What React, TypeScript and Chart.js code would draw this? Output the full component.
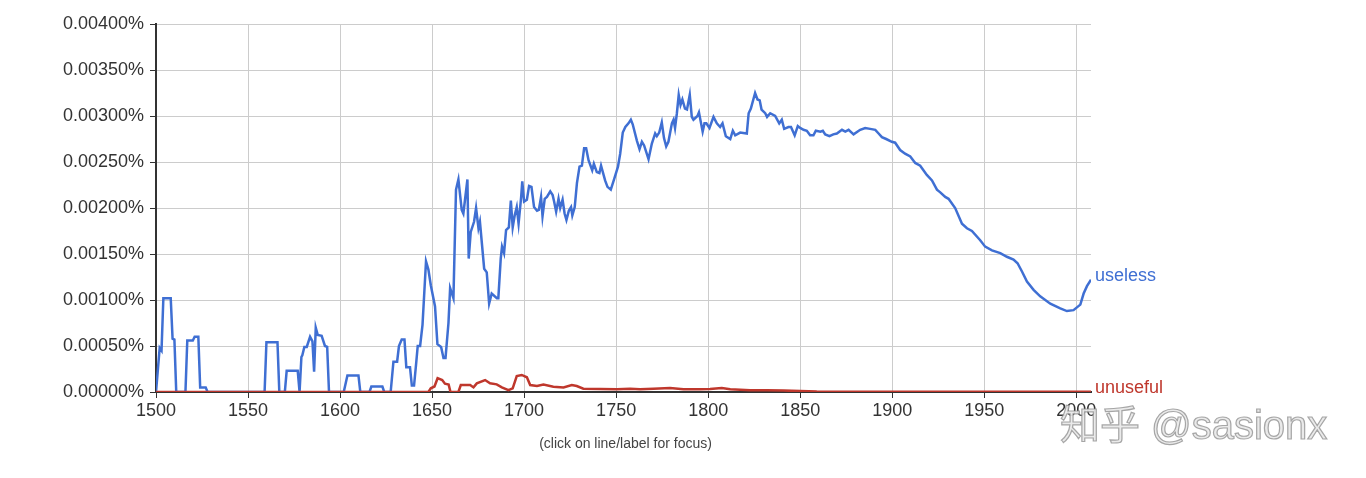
import { useEffect, useRef } from "react";
import { Chart, registerables } from "chart.js";

Chart.register(...registerables);

const X_TICKS = [1500, 1550, 1600, 1650, 1700, 1750, 1800, 1850, 1900, 1950, 2000];
const Y_TICKS = [0, 0.0005, 0.001, 0.0015, 0.002, 0.0025, 0.003, 0.0035, 0.004];

const USELESS_YEARS = [
  1500, 1502, 1503, 1504, 1508, 1509, 1510, 1511, 1516, 1517, 1520, 1521, 1523, 1524, 1527, 1528,
  1559, 1560, 1566, 1567, 1570, 1571, 1577, 1578, 1579, 1579.5, 1580.6, 1581.9, 1583.7, 1585, 1585.9, 1586.8,
  1587.9, 1590, 1591.8, 1593, 1594, 1602, 1604, 1610, 1611, 1616, 1617, 1623, 1624, 1627.5,
  1629, 1631, 1632, 1633.5, 1635, 1636, 1638, 1639, 1640.2, 1641.3, 1642.2, 1643.5, 1644.8, 1646.7,
  1648, 1649.3, 1651.6, 1652.9, 1654.9, 1656.2, 1657.3, 1658.9, 1659.8, 1661.6, 1663, 1664.3,
  1666.1, 1667, 1669.2, 1669.9, 1671, 1672.8, 1673.9, 1675.2, 1676, 1678.3, 1679.7, 1681, 1682.4,
  1685.2, 1686, 1687.3, 1688, 1689.1, 1690.2, 1691.7, 1692.8, 1693.8, 1694.9, 1696, 1697, 1698.4,
  1699, 1700, 1701.5, 1702.7, 1704, 1705.4, 1707, 1708, 1709.2, 1710, 1711.2, 1712.4, 1714.2,
  1715.5, 1716.3, 1717.4, 1718.7, 1719.6, 1720.9, 1722, 1723, 1724.3, 1725.5, 1726.2, 1727.5,
  1728.7, 1730.1, 1731.4, 1732.6, 1733.7, 1735, 1737, 1737.9, 1739.5, 1740.9, 1741.8, 1744, 1745.3,
  1747.1, 1749, 1751, 1752.2, 1753.6, 1755, 1756.7, 1758, 1759, 1761.3, 1762.7, 1764, 1765.2,
  1767.6, 1769.4, 1771.2, 1772.1, 1773.4, 1774.8, 1776, 1777.2, 1778.4, 1780.3, 1781.2, 1782,
  1783, 1784, 1785, 1786, 1787.4, 1788.5, 1790, 1791.1, 1792, 1794.2, 1795, 1797, 1798, 1799,
  1800.7, 1802.9, 1804.7, 1806.5, 1807.8, 1809.6, 1812, 1813.4, 1814.7, 1817.4, 1821, 1822,
  1823.2, 1825.5, 1826.8, 1828, 1829, 1831, 1832, 1833.7, 1836.4, 1838.6, 1840, 1841.3, 1843.6,
  1845, 1847, 1848.7, 1850, 1851.8, 1853.6, 1855.4, 1857.2, 1858.5, 1861, 1862.3, 1863.6, 1865.9,
  1868, 1869.9, 1872.7, 1874.5, 1876.3, 1879, 1882.6, 1885.3, 1888, 1890.8, 1892.6, 1894.4,
  1896.7, 1899.8, 1901.6, 1904.3, 1907, 1909.8, 1912.5, 1915.2, 1918.8, 1921.6, 1924.3, 1926.1,
  1928.8, 1930.6, 1934.2, 1937.9, 1940.6, 1943.3, 1947.8, 1950.5, 1954.2, 1958.7, 1962.3, 1965.9,
  1968.1, 1970.5, 1973.2, 1976.8, 1980.4, 1985.9, 1991.3, 1994.9, 1998.5, 2002.2, 2004, 2005.8, 2008,
];
const USELESS_VALUES = [
  0, 0.00048, 0.00045, 0.00102, 0.00102, 0.00058, 0.00057, 0, 0, 0.00056, 0.00056, 0.0006, 0.0006, 0.00005, 0.00005, 0,
  0, 0.00054, 0.00054, 0, 0, 0.00023, 0.00023, 0, 0.00038, 0.0004, 0.00049, 0.00049, 0.0006, 0.00055, 0.00022, 0.0007,
  0.00062, 0.00061, 0.0005, 0.00049, 0, 0, 0.00018, 0.00018, 0, 0, 0.00006, 0.00006, 0, 0,
  0.00033, 0.00033, 0.0005, 0.00057, 0.00057, 0.00027, 0.00027, 0.00007, 0.00007, 0.0003, 0.0005, 0.0005, 0.00073, 0.00142,
  0.00133, 0.00116, 0.00093, 0.00052, 0.00049, 0.00037, 0.00037, 0.00075, 0.00113, 0.00102, 0.0022, 0.00231,
  0.00198, 0.00194, 0.00231, 0.00145, 0.00174, 0.00185, 0.002, 0.00178, 0.00185, 0.00134, 0.0013, 0.00096, 0.00107,
  0.00102, 0.00102, 0.00145, 0.00158, 0.00151, 0.00176, 0.00179, 0.00208, 0.00179, 0.00192, 0.00201, 0.00183, 0.00212,
  0.00229, 0.00207, 0.00209, 0.00224, 0.00223, 0.00201, 0.00197, 0.00198, 0.00212, 0.00191, 0.0021, 0.00212, 0.00218,
  0.00214, 0.00207, 0.00196, 0.0021, 0.002, 0.00209, 0.00194, 0.00187, 0.00197, 0.00201, 0.00192, 0.00201,
  0.00227, 0.00245, 0.00246, 0.00265, 0.00265, 0.00252, 0.00241, 0.00248, 0.00239, 0.00238, 0.00246, 0.0023, 0.00223,
  0.0022, 0.00232, 0.00245, 0.00259, 0.00282, 0.00288, 0.00292, 0.00296, 0.00291, 0.00273, 0.00264, 0.00272, 0.00268,
  0.00253, 0.0027, 0.00281, 0.00278, 0.00282, 0.00293, 0.00276, 0.00267, 0.00272, 0.00292, 0.00296, 0.00287,
  0.00303, 0.00323, 0.00312, 0.00318, 0.00308, 0.00307, 0.00323, 0.00299, 0.00296, 0.003, 0.00304, 0.00283, 0.00292, 0.00292,
  0.00287, 0.00299, 0.00292, 0.00288, 0.00292, 0.00278, 0.00275, 0.00284, 0.00279, 0.00282, 0.00281, 0.00303,
  0.00308, 0.00325, 0.00318, 0.00317, 0.00307, 0.00303, 0.00299, 0.00303, 0.003, 0.00292, 0.00296, 0.00286, 0.00288,
  0.00288, 0.00279, 0.00289, 0.00287, 0.00285, 0.00284, 0.00279, 0.00279, 0.00284, 0.00283, 0.00284, 0.0028, 0.00278,
  0.0028, 0.00281, 0.00285, 0.00283, 0.00285, 0.0028, 0.00285, 0.00287, 0.00286, 0.00285, 0.00281, 0.00277,
  0.00275, 0.00272, 0.00271, 0.00263, 0.00259, 0.00256, 0.00249, 0.00246, 0.00236, 0.0023, 0.0022, 0.00217,
  0.00212, 0.0021, 0.002, 0.00183, 0.00178, 0.00175, 0.00165, 0.00158, 0.00154, 0.00151, 0.00147, 0.00144,
  0.0014, 0.00131, 0.0012, 0.00111, 0.00104, 0.00096, 0.00091, 0.00088, 0.00089, 0.00095, 0.00107, 0.00115, 0.00122,
];

const UNUSEFUL_YEARS = [
  1500, 1648, 1649.3, 1651.3, 1653, 1655.5, 1657, 1659, 1660, 1664.3, 1665.6, 1670.7, 1672.5, 1674.3,
  1678.8, 1681.5, 1685.1, 1687.9, 1691.5, 1693.8, 1696, 1698.7, 1701.5, 1703.3, 1707, 1710.5, 1715.9,
  1721.4, 1725.9, 1728.6, 1732.2, 1741.3, 1750.4, 1757.6, 1763, 1770.3, 1779.3, 1786.6, 1795.7, 1801,
  1807.4, 1812, 1822.8, 1831.9, 1841, 1850, 1859, 1880, 2008,
];
const UNUSEFUL_VALUES = [
  0, 0, 0.00004, 0.00006, 0.00015, 0.00013, 0.00009, 0.00008, 0, 0, 0.000076, 0.000076, 0.00005, 0.000094,
  0.00013, 0.000094, 0.000083, 0.00005, 0.00002, 0.00004, 0.000174, 0.000185, 0.00016, 0.000076, 0.000065, 0.00008, 0.000058,
  0.00005, 0.000076, 0.000065, 0.000036, 0.000033, 0.00003, 0.000036, 0.00003, 0.000036, 0.000043, 0.00003, 0.00003, 0.000033,
  0.000043, 0.00003, 0.00002, 0.000018, 0.000015, 0.00001, 0.000005, 0.000003, 0.000003,
];

const SERIES_NAMES = ["unuseful", "useless"];
const CAPTION = "(click on line/label for focus)";
const WATERMARK = "知乎 @sasionx";

const BLUE = "#3f6fd3";
const RED = "#bf372c";
const FONT = "Arial, 'Liberation Sans', sans-serif";

const toPoints = (xs: number[], ys: number[]) => xs.map((x, i) => ({ x, y: ys[i] }));

const overlayPlugin = {
  id: "overlay",
  afterDatasetsDraw(chart: any) {
    const ctx = chart.ctx;
    ctx.save();
    ctx.font = `18px ${FONT}`;
    ctx.textAlign = "left";
    ctx.textBaseline = "alphabetic";
    chart.data.datasets.forEach((ds: any, i: number) => {
      const meta = chart.getDatasetMeta(i);
      const last = meta.data[meta.data.length - 1];
      if (!last) return;
      ctx.fillStyle = ds.borderColor;
      ctx.fillText(ds.label, last.x + 4, last.y + 1);
    });
    ctx.restore();
  },
  afterDraw(chart: any) {
    const ctx = chart.ctx;
    const area = chart.chartArea;
    ctx.save();
    ctx.font = `14px ${FONT}`;
    ctx.fillStyle = "#444";
    ctx.textAlign = "center";
    ctx.textBaseline = "middle";
    ctx.fillText(CAPTION, (area.left + area.right) / 2 + 2, 444);

    ctx.font = `40px 'Liberation Sans', Arial, 'Noto Sans CJK SC', sans-serif`;
    ctx.textAlign = "left";
    ctx.textBaseline = "alphabetic";
    ctx.fillStyle = "rgba(232,232,232,0.92)";
    ctx.strokeStyle = "rgba(140,140,140,0.75)";
    ctx.lineWidth = 1.2;
    ctx.fillText(WATERMARK, 1060, 439);
    ctx.strokeText(WATERMARK, 1060, 439);
    ctx.restore();
  },
};

export default function App() {
  const ref = useRef<HTMLCanvasElement | null>(null);

  useEffect(() => {
    document.body.style.margin = "0";
    const canvas = ref.current;
    if (!canvas) return;
    const chart = new Chart(canvas, {
      type: "line",
      data: {
        datasets: [
          {
            label: SERIES_NAMES[0],
            data: toPoints(UNUSEFUL_YEARS, UNUSEFUL_VALUES),
            borderColor: RED,
            backgroundColor: RED,
            borderWidth: 2.5,
            pointRadius: 0,
            tension: 0,
            order: 0,
          },
          {
            label: SERIES_NAMES[1],
            data: toPoints(USELESS_YEARS, USELESS_VALUES),
            borderColor: BLUE,
            backgroundColor: BLUE,
            borderWidth: 2.5,
            pointRadius: 0,
            tension: 0,
            order: 1,
          },
        ],
      },
      options: {
        animation: false,
        responsive: false,
        devicePixelRatio: 1,
        layout: { padding: { top: 24, right: 275, bottom: 0, left: 0 } },
        plugins: {
          legend: { display: false },
          tooltip: { enabled: false },
        },
        scales: {
          x: {
            type: "linear",
            min: 1500,
            max: 2008,
            afterBuildTicks: (s: any) => {
              s.ticks = X_TICKS.map((v) => ({ value: v }));
            },
            afterFit: (s: any) => {
              s.height = 86;
            },
            ticks: {
              autoSkip: false,
              maxRotation: 0,
              padding: 2,
              color: "#333",
              font: { family: FONT, size: 18 },
              callback: (v: any) => String(v),
            },
            grid: { color: "#cccccc", tickColor: "#333", tickLength: 6, lineWidth: 1 },
            border: { color: "#333", width: 2 },
          },
          y: {
            type: "linear",
            min: 0,
            max: 0.004,
            afterBuildTicks: (s: any) => {
              s.ticks = Y_TICKS.map((v) => ({ value: v }));
            },
            afterFit: (s: any) => {
              s.width = 156;
            },
            ticks: {
              padding: 6,
              color: "#333",
              font: { family: FONT, size: 18 },
              callback: (v: any) => Number(v).toFixed(5) + "%",
            },
            grid: { color: "#cccccc", tickColor: "#333", tickLength: 6, lineWidth: 1 },
            border: { color: "#333", width: 2 },
          },
        },
      },
      plugins: [overlayPlugin],
    });
    return () => chart.destroy();
  }, []);

  return <canvas ref={ref} width={1366} height={478} style={{ display: "block" }} />;
}
